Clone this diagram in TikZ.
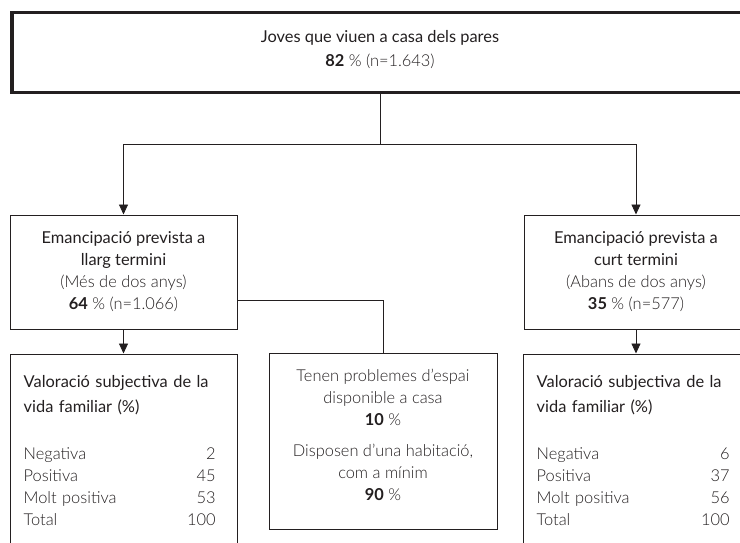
\documentclass[tikz,border=0pt]{standalone}
\usepackage{fontspec}
\setmainfont{Lato}
\newfontfamily\lightfont{Lato Light}
\usetikzlibrary{arrows.meta,positioning}
\definecolor{ink}{HTML}{231F20}
\newcommand{\regtxt}[1]{{\rmfamily #1}}
\newcommand{\boldnum}[1]{{\rmfamily\bfseries #1}}

\begin{document}
\begin{tikzpicture}[
    x=1pt, y=-1pt,
    font=\lightfont\fontsize{16.4}{22}\selectfont,
    box/.style={rectangle, draw=ink, line width=1pt, text=ink, align=center, inner sep=0pt},
    txt/.style={text=ink, inner sep=0pt},
    arrow/.style={-{Triangle[length=10pt, width=9pt]}, draw=ink, line width=0.9pt},
    link/.style={draw=ink, line width=0.9pt}
]
    \useasboundingbox (0,0) rectangle (740,543);

    \node[box, line width=3.5pt, minimum width=736pt, minimum height=80pt, text depth=9pt] (home) at (380,52.5)
        {\regtxt{Joves que viuen a casa dels pares}\\[2pt]\boldnum{82} \% (n=1.643)};
    \coordinate[below=50pt of home] (fork);

    \node[box, minimum width=227pt, minimum height=114pt] (long) at (123.5,272)
        {\regtxt{Emancipació prevista a}\\\regtxt{llarg termini}\\(Més de dos anys)\\\boldnum{64} \% (n=1.066)};
    \node[box, minimum width=224pt, minimum height=114pt] (short) at (636,272)
        {\regtxt{Emancipació prevista a}\\\regtxt{curt termini}\\(Abans de dos anys)\\\boldnum{35} \% (n=577)};

    % bottom row
    \node[box, minimum width=227pt, minimum height=220pt, below=24pt of long] (valL) {};
    \node[box, minimum width=226pt, minimum height=220pt, below=24pt of short] (valR) {};
    \node[box, minimum width=228pt, minimum height=176pt, anchor=north] (space) at (383,353) {};

    \node[txt, anchor=north west, text width=192pt, align=left] (valLtxt) at ([shift={(14pt,-22pt)}]valL.north west)
        {\regtxt{Valoració subjectiva de la}\\[3pt]\regtxt{vida familiar (\%)}\\[25pt]
         Negativa\hfill 2\\Positiva\hfill 45\\Molt positiva\hfill 53\\Total\hfill 100};
    \node[txt, anchor=north west, text width=193pt, align=left] (valRtxt) at ([shift={(14pt,-22pt)}]valR.north west)
        {\regtxt{Valoració subjectiva de la}\\[3pt]\regtxt{vida familiar (\%)}\\[25pt]
         Negativa\hfill 6\\Positiva\hfill 37\\Molt positiva\hfill 56\\Total\hfill 100};
    \node[txt, anchor=north, align=center] (spacetxt) at ([yshift=-16pt]space.north)
        {Tenen problemes d’espai\\disponible a casa\\\boldnum{10} \%\\[9pt]
         Disposen d’una habitació,\\com a mínim\\\boldnum{90} \%};

    \draw[link] (home) -- (fork);
    \draw[arrow] (fork) -| (long);
    \draw[arrow] (fork) -| (short);
    \draw[arrow] (long) -- (valL);
    \draw[arrow] (short) -- (valR);
    \draw[link] ([yshift=-28pt]long.east) -| (space.north);
\end{tikzpicture}
\end{document}
